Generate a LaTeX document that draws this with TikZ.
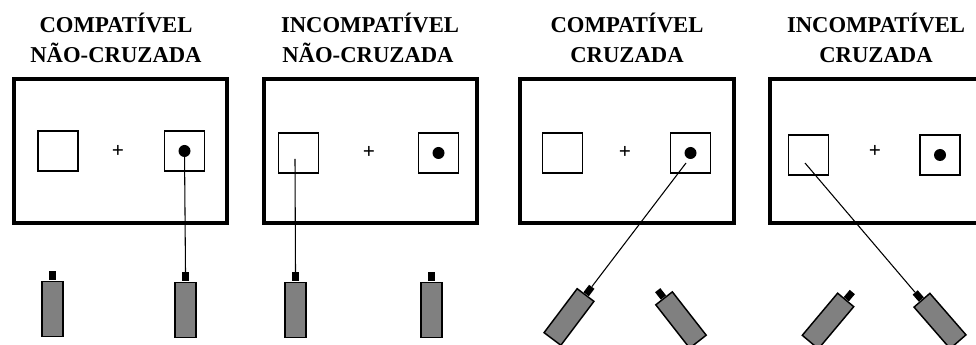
\documentclass[tikz,border=0pt]{standalone}
\usepackage{fontspec}
\newfontfamily\titlefont{Liberation Serif}
\usetikzlibrary{calc}
\definecolor{bodygray}{RGB}{128,128,128}
\tikzset{
  screen/.style={draw, line width=3pt},
  stimbox/.style={draw, line width=1.1pt, minimum width=30pt, minimum height=30pt, inner sep=0pt},
  targetdot/.style={circle, fill, inner sep=0pt, minimum size=9pt},
  fixcross/.style={font=\titlefont\bfseries\fontsize{16}{16}\selectfont, inner sep=0pt},
  resp/.style={draw, fill=bodygray, line width=1.1pt, minimum width=15.75pt, minimum height=41.25pt, inner sep=0pt},
  capbox/.style={fill, minimum width=5pt, minimum height=7pt, inner sep=0pt, anchor=south},
  wire/.style={line width=0.8pt},
  titletext/.style={font=\titlefont\bfseries\fontsize{17}{22.5}\selectfont, anchor=base, inner sep=0pt}
}
\begin{document}
\begin{tikzpicture}[x=0.75pt,y=0.75pt,yscale=-1,xscale=1]
\clip (0,0) rectangle (976,345);
\fill[white] (0,0) rectangle (976,345);

% Titles
\node[titletext] (t1a) at (116,33) {COMPATÍVEL};
\node[titletext] (t1b) at (116,63) {NÃO-CRUZADA};
\node[titletext] (t2a) at (370,33) {INCOMPATÍVEL};
\node[titletext] (t2b) at (368,63) {NÃO-CRUZADA};
\node[titletext] (t3a) at (627,33) {COMPATÍVEL};
\node[titletext] (t3b) at (627,63) {CRUZADA};
\node[titletext] (t4a) at (876,33) {INCOMPATÍVEL};
\node[titletext] (t4b) at (876,63) {CRUZADA};

% Screens
\draw[screen] (14,79) rectangle (227,223);
\draw[screen] (264,79) rectangle (477,223);
\draw[screen] (520,79) rectangle (734,223);
\draw[screen] (770,79) rectangle (986,223);

% Panel 1
\node[stimbox] (l1) at (58,151) {};
\node[stimbox] (s1) at (184.5,151) {};
\node[targetdot] (d1) at (s1.center) {};
\node[fixcross] (f1) at (118,151) {+};
\node[resp] (r1a) at (52.5,309) {};
\node[capbox] (k1a) at (r1a.north) {};
\node[resp] (r1b) at (185.5,310) {};
\node[capbox] (k1b) at (r1b.north) {};
\draw[wire] (d1.center) -- (k1b.north);

% Panel 2
\node[stimbox] (l2) at (298.5,153) {};
\node[stimbox] (s2) at (438.5,153) {};
\node[targetdot] (d2) at (s2.center) {};
\node[fixcross] (f2) at (369,152) {+};
\node[resp] (r2a) at (295.5,310) {};
\node[capbox] (k2a) at (r2a.north) {};
\node[resp] (r2b) at (431.5,310) {};
\node[capbox] (k2b) at (r2b.north) {};
\coordinate (p2) at (295,159);
\draw[wire] (p2) -- (k2a.north);

% Panel 3
\node[stimbox] (l3) at (562.5,153) {};
\node[stimbox] (s3) at (690.5,153) {};
\node[targetdot] (d3) at (s3.center) {};
\node[fixcross] (f3) at (625,152) {+};
\node[resp, rotate=-37] (r3a) at (569,317) {};
\node[capbox, rotate=-37] (k3a) at (r3a.north) {};
\node[resp, rotate=38] (r3b) at (681,320) {};
\node[capbox, rotate=38] (k3b) at (r3b.north) {};
\coordinate (p3) at (686,163);
\draw[wire] (p3) -- (k3a.north);

% Panel 4
\node[stimbox] (l4) at (808.5,155) {};
\node[stimbox] (s4) at (940,155) {};
\node[targetdot] (d4) at (s4.center) {};
\node[fixcross] (f4) at (875,151) {+};
\node[resp, rotate=-40] (r4a) at (828,321) {};
\node[capbox, rotate=-40] (k4a) at (r4a.north) {};
\node[resp, rotate=41] (r4b) at (940,321) {};
\node[capbox, rotate=41] (k4b) at (r4b.north) {};
\coordinate (p4) at (805,163);
\draw[wire] (p4) -- (k4b.north);

\end{tikzpicture}
\end{document}
